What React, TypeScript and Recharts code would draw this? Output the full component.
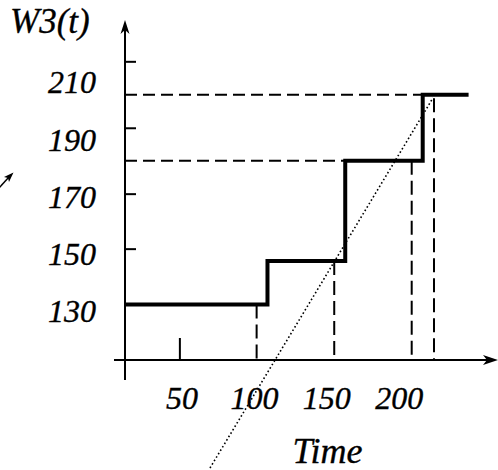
import React from "react";
import { LineChart, Line, XAxis, YAxis, ReferenceLine, ReferenceDot, Label, Customized } from "recharts";

// Tick labels
const xTicks = [50, 100, 150, 200];
const yTicks = [130, 150, 170, 190, 210];

// Step function W3(t)
const stepTimes = [10.6, 109.0, 162.7, 216.2, 246.5];
const stepLevels = [132.5, 147.7, 182.7, 205.7, 205.7];

// Dashed vertical drops (time, top level)
const dropTimes = [101.5, 155.1, 208.6, 224.0];
const dropLevels = [132.5, 147.7, 182.7, 204.5];

// Dashed horizontal guides (level, end time)
const guideLevels = [182.7, 205.7];
const guideEnds = [162.7, 216.2];

// Dotted diagonal
const diagTimes = [69.3, 223.3];
const diagLevels = [75.4, 204.6];

// Small tick marks
const yTickMarks = [217.2, 194.0, 171.0, 151.8];
const xTickMarks = [48.5];

// Axes positions
const xAxisLevel = 113.1;
const yAxisTime = 10.6;
const xDomain: [number, number] = [10.6, 268.2];
const yDomain: [number, number] = [113.1, 231.8];

const stepData = stepTimes.map((t, i) => ({ t, w: stepLevels[i] }));

const FONT = "'Liberation Serif', 'Times New Roman', serif";
const textStyle = {
  fontFamily: FONT,
  fontStyle: "italic" as const,
  fontSize: 32,
  fill: "#000",
  stroke: "#000",
  strokeWidth: 0.35,
};

const XTick = (p: any) => (
  <text x={p.x} y={p.y} dy="0.71em" textAnchor="middle" {...textStyle}>
    {p.payload.value}
  </text>
);
const YTick = (p: any) => (
  <text x={p.x} y={p.y} dy="0.34em" textAnchor="end" {...textStyle}>
    {p.payload.value}
  </text>
);

const TimeLabel = (p: any) => {
  const vb = p.viewBox || { x: 125, y: 360, width: 373, height: 110 };
  return (
    <text x={vb.x + vb.width / 2 + 16} y={vb.y + 103} textAnchor="middle" {...textStyle} fontSize={36}>
      Time
    </text>
  );
};
const W3Label = (p: any) => {
  const vb = p.viewBox || { x: 0, y: 20, width: 125, height: 340 };
  return (
    <text x={vb.x + 10} y={vb.y + 13} textAnchor="start" {...textStyle} fontSize={35}>
      W3(t)
    </text>
  );
};

const UpArrow = (p: any) => (
  <path d={`M${p.cx},${p.cy} L${p.cx - 4.5},${p.cy + 14} L${p.cx},${p.cy + 10} L${p.cx + 4.5},${p.cy + 14} Z`} fill="#000" />
);
const RightArrow = (p: any) => (
  <path d={`M${p.cx},${p.cy} L${p.cx - 15},${p.cy - 5} L${p.cx - 11},${p.cy} L${p.cx - 15},${p.cy + 5} Z`} fill="#000" />
);

const YMark = (p: any) => (
  <line x1={Math.min(p.x1, p.x2)} y1={p.y1} x2={Math.min(p.x1, p.x2) + 11} y2={p.y1} stroke="#000" strokeWidth={2} />
);
const XMark = (p: any) => {
  const yb = Math.max(p.y1, p.y2);
  return <line x1={p.x1} y1={yb} x2={p.x1} y2={yb - 22} stroke="#000" strokeWidth={2} />;
};

const StrayArrow = () => (
  <g>
    <line x1={-1} y1={188} x2={9} y2={177} stroke="#000" strokeWidth={1.5} />
    <path d="M13.5,172.5 L4,177 L8,178 L9,182 Z" fill="#000" />
  </g>
);

export default function App() {
  return (
    <div style={{ position: "absolute", left: 0, top: 0, background: "#fff" }}>
      <LineChart width={498} height={470} data={stepData} margin={{ top: 20, right: 0, bottom: 0, left: 0 }}>
        <XAxis
          type="number"
          dataKey="t"
          domain={xDomain}
          allowDataOverflow
          ticks={xTicks}
          interval={0}
          height={110}
          axisLine={false}
          tickLine={false}
          tickSize={0}
          tickMargin={26}
          tick={XTick}
        >
          <Label content={TimeLabel} />
        </XAxis>
        <YAxis
          type="number"
          domain={yDomain}
          allowDataOverflow
          ticks={yTicks}
          interval={0}
          width={125}
          axisLine={false}
          tickLine={false}
          tickSize={0}
          tickMargin={29}
          tick={YTick}
        >
          <Label content={W3Label} />
        </YAxis>

        {/* dotted diagonal */}
        <ReferenceLine
          segment={[
            { x: diagTimes[0], y: diagLevels[0] },
            { x: diagTimes[1], y: diagLevels[1] },
          ]}
          ifOverflow="visible"
          stroke="#000"
          strokeWidth={1.6}
          strokeDasharray="1.6 2.4"
        />

        {/* dashed horizontal guides */}
        {guideLevels.map((lv, i) => (
          <ReferenceLine
            key={`h${i}`}
            segment={[
              { x: yAxisTime, y: lv },
              { x: guideEnds[i], y: lv },
            ]}
            ifOverflow="visible"
            stroke="#000"
            strokeWidth={2}
            strokeDasharray="12 6"
          />
        ))}

        {/* dashed vertical drops */}
        {dropTimes.map((t, i) => (
          <ReferenceLine
            key={`v${i}`}
            segment={[
              { x: t, y: dropLevels[i] },
              { x: t, y: xAxisLevel },
            ]}
            ifOverflow="visible"
            stroke="#000"
            strokeWidth={2}
            strokeDasharray="14 6"
          />
        ))}

        {/* axes */}
        <ReferenceLine
          segment={[
            { x: yAxisTime, y: 106.1 },
            { x: yAxisTime, y: yDomain[1] - 2 },
          ]}
          ifOverflow="visible"
          stroke="#000"
          strokeWidth={2}
        />
        <ReferenceLine
          segment={[
            { x: 3.0, y: xAxisLevel },
            { x: xDomain[1] - 5, y: xAxisLevel },
          ]}
          ifOverflow="visible"
          stroke="#000"
          strokeWidth={2}
        />
        <ReferenceDot x={yAxisTime} y={yDomain[1]} r={1} ifOverflow="visible" shape={UpArrow} />
        <ReferenceDot x={xDomain[1]} y={xAxisLevel} r={1} ifOverflow="visible" shape={RightArrow} />

        {yTickMarks.map((v, i) => (
          <ReferenceLine key={`ym${i}`} y={v} ifOverflow="visible" shape={YMark} />
        ))}
        {xTickMarks.map((t, i) => (
          <ReferenceLine key={`xm${i}`} x={t} ifOverflow="visible" shape={XMark} />
        ))}

        <Line
          type="stepAfter"
          dataKey="w"
          stroke="#000"
          strokeWidth={4}
          dot={false}
          activeDot={false}
          isAnimationActive={false}
          strokeLinejoin="miter"
          strokeLinecap="square"
        />
        <Customized component={StrayArrow} />
      </LineChart>
    </div>
  );
}
